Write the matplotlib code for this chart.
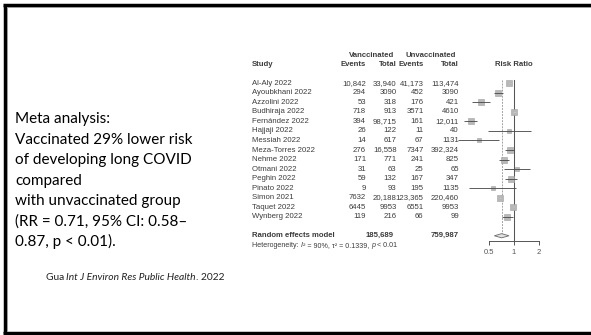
import matplotlib
matplotlib.use("Agg")
import matplotlib.pyplot as plt
from matplotlib.transforms import blended_transform_factory
from matplotlib.patches import Polygon

# ---- study data ----
studies = ["Al-Aly 2022", "Ayoubkhani 2022", "Azzolini 2022", "Budhiraja 2022",
           "Fernández 2022", "Hajjaji 2022", "Messiah 2022", "Meza-Torres 2022",
           "Nehme 2022", "Otmani 2022", "Peghin 2022", "Pinato 2022",
           "Simon 2021", "Taquet 2022", "Wynberg 2022"]
vacc_events = [10842, 294, 53, 718, 394, 26, 14, 276, 171, 31, 59, 9, 7632, 6445, 119]
vacc_total = [33940, 3090, 318, 913, 98715, 122, 617, 16558, 771, 63, 132, 93, 20188, 9953, 216]
unvacc_events = [41173, 452, 176, 3571, 161, 11, 67, 7347, 241, 25, 167, 195, 123365, 6551, 66]
unvacc_total = [113474, 3090, 421, 4610, 12011, 40, 1131, 392324, 825, 65, 347, 1135, 220460, 9953, 99]
rr = [0.88, 0.65, 0.40, 1.01, 0.30, 0.86, 0.38, 0.89, 0.76, 1.10, 0.92, 0.56, 0.68, 0.98, 0.83]
rr_low = [0.87, 0.58, 0.31, 0.97, 0.25, 0.48, 0.21, 0.79, 0.66, 0.76, 0.78, 0.29, 0.66, 0.96, 0.71]
rr_high = [0.90, 0.73, 0.52, 1.05, 0.36, 1.62, 0.66, 1.00, 0.88, 1.58, 1.09, 1.07, 0.69, 1.01, 0.97]
weights = [8.5, 7.5, 6.0, 8.4, 6.3, 4.2, 3.8, 8.0, 7.4, 3.8, 6.5, 3.2, 8.5, 8.5, 6.8]
pooled_rr, pooled_low, pooled_high = 0.71, 0.58, 0.87
pooled_vacc_total = "185,689"
pooled_unvacc_total = "759,987"
heterogeneity = [("Heterogeneity: ", "normal"), ("I", "italic"), ("² = 90%, τ² = 0.1339, ", "normal"),
                 ("p", "italic"), (" < 0.01", "normal")]
x_ticks = [0.5, 1, 2]
x_tick_labels = ["0.5", "1", "2"]

slide_lines = ["Meta analysis:",
               "Vaccinated 29% lower risk",
               "of developing long COVID",
               "compared",
               "with unvaccinated group",
               "(RR = 0.71, 95% CI: 0.58–",
               "0.87, p < 0.01)."]
citation = [("Gua ", "normal"), ("Int J Environ Res Public Health", "italic"), (". 2022", "normal")]


def fmt(v):
    return f"{v:,}" if v >= 10000 else str(v)


W, H = 591, 335
fig = plt.figure(figsize=(W / 100, H / 100), dpi=100)
fig.patch.set_facecolor("white")

# background axes in pixel coordinates
bg = fig.add_axes([0, 0, 1, 1])
bg.set_xlim(0, W)
bg.set_ylim(H, 0)
bg.axis("off")

# slide frame
bg.plot([4.5, 4.5], [4.6, 332.8], color="black", lw=2.5, solid_capstyle="butt", clip_on=False)
bg.plot([3.2, 600], [4.8, 4.8], color="black", lw=2.5, solid_capstyle="butt", clip_on=False)
bg.plot([3.2, 600], [332.8, 332.8], color="black", lw=2.5, solid_capstyle="butt", clip_on=False)
bg.plot([6.6, 6.6], [6.6, 331], color="#9a9a9a", lw=0.7, clip_on=False)
bg.plot([6.6, 600], [6.7, 6.7], color="#9a9a9a", lw=0.7, clip_on=False)

# slide text
for i, line in enumerate(slide_lines):
    bg.text(15, 123 + i * 20.5, line, fontsize=11, family="Lato",
            ha="left", va="baseline", color="black")

renderer = fig.canvas.get_renderer()


def run_text(x, y, pieces, transform=None, **style_kw):
    """Draw a line of text made of differently styled pieces, left to right."""
    for piece, style in pieces:
        kw = dict(style_kw)
        if transform is not None:
            kw["transform"] = transform
        t = bg.text(x, y, piece, style=style, ha="left", **kw)
        x += t.get_window_extent(renderer).width


run_text(45.5, 280, citation, fontsize=7.4, family="Lato", va="baseline", color="#222222")

# forest plot axes: 0.5..2 on log scale, rows top to bottom
top_px, bot_px = 77.6, 241.0
left_px, right_px = 489.0, 539.0
ax = fig.add_axes([left_px / W, (H - bot_px) / H, (right_px - left_px) / W, (bot_px - top_px) / H])
ax.set_xscale("log")
ax.set_xlim(0.5, 2)
ax.set_ylim(16.55, -0.6)
ax.patch.set_alpha(0)
for s in ["top", "right", "left"]:
    ax.spines[s].set_visible(False)
ax.spines["bottom"].set_color("#555555")
ax.spines["bottom"].set_linewidth(0.7)
ax.set_yticks([])
ax.set_xticks(x_ticks)
ax.set_xticklabels(x_tick_labels)
ax.minorticks_off()
ax.tick_params(axis="x", length=3, width=0.7, color="#555555", pad=2.5,
               labelsize=5.5, labelcolor="#555555")
for lab in ax.get_xticklabels():
    lab.set_family("Liberation Sans")

ink = "#3c3c3c"
# reference lines
ax.plot([1, 1], [-0.35, 16.55], color="#555555", lw=0.75, clip_on=False, zorder=1)
ax.plot([pooled_rr, pooled_rr], [-0.35, 15.8], color="#8a8a8a", lw=0.55,
        ls=(0, (2.5, 1.5)), clip_on=False, zorder=1)

# study estimates
px_per_pt = 100 / 72
for i in range(len(studies)):
    side_px = 2.1 * weights[i] ** 0.5
    half_log = (side_px / 2) / (right_px - left_px) * 2  # in log2 units
    ci_inside = (rr_high[i] / rr[i]) < 2 ** half_log and (rr[i] / rr_low[i]) < 2 ** half_log
    ax.scatter([rr[i]], [i], marker="s", s=(side_px / px_per_pt) ** 2,
               facecolor="#b8b8b8", edgecolor="#a0a0a0", linewidths=0.4,
               zorder=2, clip_on=False)
    ax.plot([rr_low[i], rr_high[i]], [i, i], color="#c8c8c8" if ci_inside else "#505050",
            lw=0.65, zorder=3, clip_on=False, solid_capstyle="butt")

# pooled diamond
dy = 0.22
diamond = Polygon([(pooled_low, 16), (pooled_rr, 16 - dy), (pooled_high, 16), (pooled_rr, 16 + dy)],
                  closed=True, facecolor="#e2e2e2", edgecolor="#6a6a6a", lw=0.6,
                  zorder=3, clip_on=False)
ax.add_patch(diamond)

# table text
tr = blended_transform_factory(bg.transData, ax.transData)
fs = 5.6
kw = dict(transform=tr, fontsize=fs, family="Liberation Sans", color=ink, va="center")
bkw = dict(kw, fontweight="bold")

bg.text(372, -2.9, "Vanccinated", ha="center", **bkw)
bg.text(430.5, -2.9, "Unvaccinated", ha="center", **bkw)
bg.text(252, -2.0, "Study", ha="left", **bkw)
bg.text(366, -2.0, "Events", ha="right", **bkw)
bg.text(396.5, -2.0, "Total", ha="right", **bkw)
bg.text(423.5, -2.0, "Events", ha="right", **bkw)
bg.text(459, -2.0, "Total", ha="right", **bkw)
bg.text(513.5, -2.0, "Risk Ratio", ha="center", **bkw)

for i, name in enumerate(studies):
    bg.text(252, i, name, ha="left", **kw)
    bg.text(366, i, fmt(vacc_events[i]), ha="right", **kw)
    bg.text(396.5, i, fmt(vacc_total[i]), ha="right", **kw)
    bg.text(423.5, i, fmt(unvacc_events[i]), ha="right", **kw)
    bg.text(459, i, fmt(unvacc_total[i]), ha="right", **kw)

bg.text(252, 16, "Random effects model", ha="left", **bkw)
bg.text(394, 16, pooled_vacc_total, ha="right", **bkw)
bg.text(459, 16, pooled_unvacc_total, ha="right", **bkw)
run_text(252, 17.05, heterogeneity, transform=tr, fontsize=5.1,
         family="Liberation Sans", color=ink, va="center")

fig.savefig("out.png", dpi=100, facecolor="white")
